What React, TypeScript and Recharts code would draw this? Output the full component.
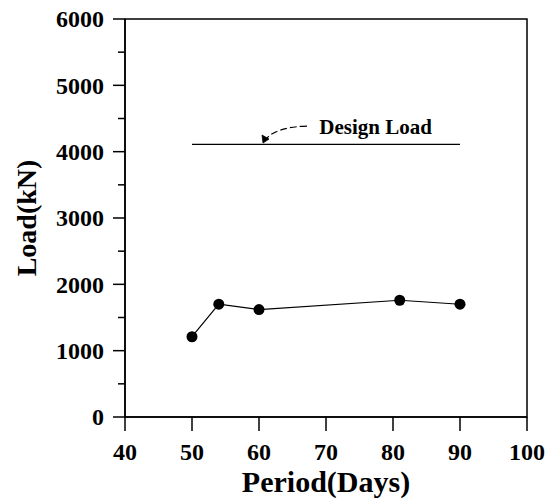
import React from "react";
import {
  ComposedChart,
  Line,
  XAxis,
  YAxis,
  ReferenceLine,
  ReferenceArea,
  ReferenceDot,
} from "recharts";

const periods = [50, 54, 60, 81, 90];
const loads = [1210, 1700, 1620, 1760, 1700];
const xTicks = [40, 50, 60, 70, 80, 90, 100];
const yTicks = [0, 500, 1000, 1500, 2000, 2500, 3000, 3500, 4000, 4500, 5000, 5500, 6000];
const designLoad = 4110;
const designStart = 50;
const designEnd = 90;
const designLabel = "Design Load";
const arrowTip = { x: 60.6, y: 4130 };
const labelAnchor = { x: 69, y: 4380 };

const data = periods.map((p, i) => ({ period: p, load: loads[i] }));

const FONT = "'Liberation Serif', 'Times New Roman', serif";

const YTick = (props: any) => {
  const { x, y, payload } = props;
  const v = payload.value;
  const major = v % 1000 === 0;
  return (
    <g>
      <line x1={x - (major ? 12 : 7)} y1={y} x2={x} y2={y} stroke="#000" strokeWidth={1.5} />
      {major && (
        <text
          x={x - 21}
          y={y}
          dy="0.35em"
          textAnchor="end"
          fontFamily={FONT}
          fontWeight="bold"
          fontSize={24}
          fill="#000"
        >
          {v}
        </text>
      )}
    </g>
  );
};

const XTick = (props: any) => {
  const { x, y, payload } = props;
  return (
    <g>
      <line x1={x} y1={y} x2={x} y2={y + 14} stroke="#000" strokeWidth={1.5} />
      <text
        x={x}
        y={y + 35}
        dy="0.35em"
        textAnchor="middle"
        fontFamily={FONT}
        fontWeight="bold"
        fontSize={24}
        fill="#000"
      >
        {payload.value}
      </text>
    </g>
  );
};

const ArrowShape = (props: any) => {
  const { cx, cy } = props;
  if (cx == null || cy == null) return null;
  const sx = cx + 44;
  const sy = cy - 17;
  return (
    <g>
      <path
        d={`M${sx},${sy} Q${cx + 12},${cy - 16} ${cx + 2},${cy - 3}`}
        fill="none"
        stroke="#000"
        strokeWidth={1.2}
        strokeDasharray="7 3"
      />
      <path
        d={`M${cx},${cy} L${cx - 1},${cy - 8} L${cx + 6},${cy - 4} Z`}
        fill="#000"
        stroke="#000"
        strokeWidth={0.8}
      />
    </g>
  );
};

const LabelShape = (props: any) => {
  const { cx, cy } = props;
  if (cx == null || cy == null) return null;
  return (
    <text
      x={cx}
      y={cy}
      dy="0.35em"
      textAnchor="start"
      fontFamily={FONT}
      fontWeight="bold"
      fontSize={21}
      fill="#000"
    >
      {designLabel}
    </text>
  );
};

export default function App() {
  return (
    <div style={{ position: "absolute", left: 0, top: 0, width: 550, height: 499, background: "#fff" }}>
      <ComposedChart
        width={550}
        height={499}
        data={data}
        margin={{ top: 19, right: 23, left: 0, bottom: 0 }}
      >
        <XAxis
          dataKey="period"
          type="number"
          domain={[40, 100]}
          ticks={xTicks}
          interval={0}
          height={82}
          tickSize={0}
          tickMargin={0}
          tickLine={false}
          tick={<XTick />}
          axisLine={{ stroke: "#000", strokeWidth: 1.5 }}
          label={{
            value: "Period(Days)",
            position: "insideBottom",
            offset: 7,
            style: { fontFamily: FONT, fontWeight: "bold", fontSize: 30, fill: "#000" },
          }}
        />
        <YAxis
          type="number"
          domain={[0, 6000]}
          ticks={yTicks}
          interval={0}
          width={125}
          tickSize={0}
          tickMargin={0}
          tickLine={false}
          tick={<YTick />}
          axisLine={{ stroke: "#000", strokeWidth: 1.5 }}
          label={{
            value: "Load(kN)",
            angle: -90,
            position: "insideLeft",
            offset: 26,
            style: { fontFamily: FONT, fontWeight: "bold", fontSize: 28, fill: "#000", textAnchor: "middle" },
          }}
        />
        <ReferenceArea
          x1={40}
          x2={100}
          y1={0}
          y2={6000}
          fill="none"
          stroke="#000"
          strokeWidth={1.5}
          fillOpacity={0}
        />
        <ReferenceLine
          segment={[
            { x: designStart, y: designLoad },
            { x: designEnd, y: designLoad },
          ]}
          stroke="#000"
          strokeWidth={1.3}
        />
        <ReferenceDot x={arrowTip.x} y={arrowTip.y} r={0} shape={<ArrowShape />} />
        <ReferenceDot x={labelAnchor.x} y={labelAnchor.y} r={0} shape={<LabelShape />} />
        <Line
          dataKey="load"
          type="linear"
          stroke="#000"
          strokeWidth={1.2}
          dot={{ r: 5.5, fill: "#000", stroke: "#000", strokeWidth: 0 }}
          isAnimationActive={false}
        />
      </ComposedChart>
    </div>
  );
}
